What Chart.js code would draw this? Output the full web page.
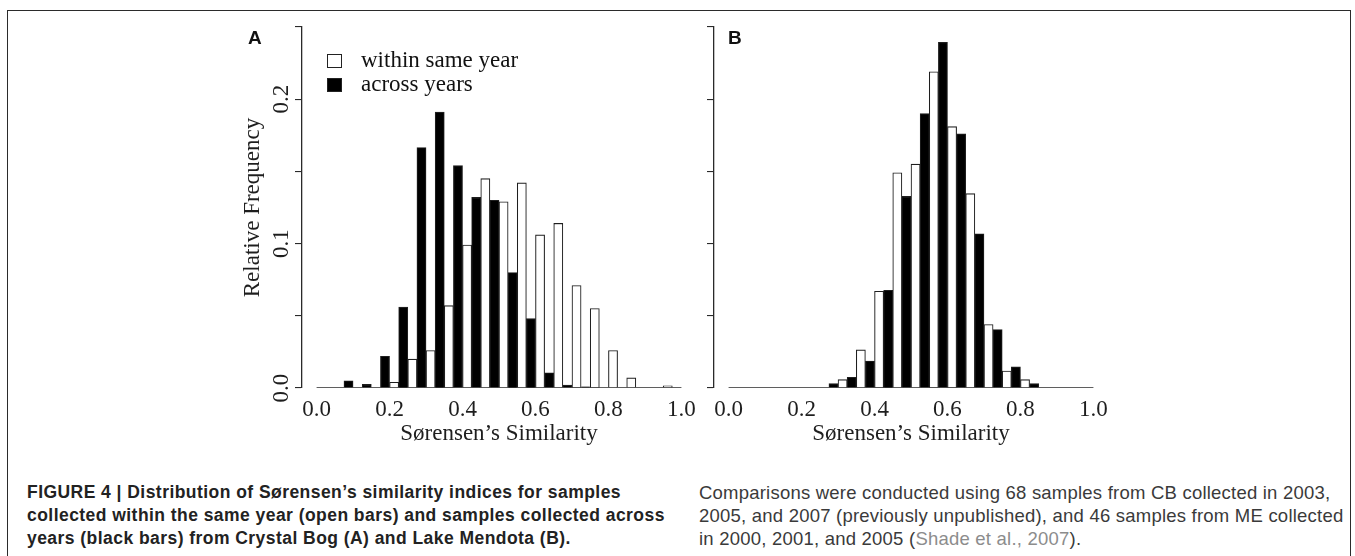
<!DOCTYPE html>
<html>
<head>
<meta charset="utf-8">
<script src="https://cdn.jsdelivr.net/npm/chart.js@4.4.1/dist/chart.umd.min.js"></script>
<style>
  html, body { margin: 0; padding: 0; background: #fff; width: 1355px; height: 556px; overflow: hidden; }
  #frame { position: absolute; left: 7px; top: 10px; width: 1344px; height: 600px; border: 1.5px solid #2b2b2b; box-sizing: border-box; }
  .cv { position: absolute; top: 0; }
  #cA { left: 0; width: 704px; height: 470px; }
  #cB { left: 706px; width: 410px; height: 470px; }
  .panel { position: absolute; font-family: "Liberation Sans", Arial, sans-serif; font-weight: bold; font-size: 19px; color: #111; }
  .leg { position: absolute; font-family: "Liberation Serif", "Times New Roman", serif; font-size: 23px; color: #111; line-height: 24px; white-space: nowrap; }
  .sw { position: absolute; width: 15px; height: 14px; box-sizing: border-box; border: 1.2px solid #222; }
  .cap { position: absolute; top: 481px; line-height: 23px; white-space: nowrap; font-family: "Liberation Sans", Arial, sans-serif; }
  #capL { left: 27px; font-weight: bold; font-size: 17.5px; letter-spacing: 0.45px; color: #222; }
  #capR { left: 699px; font-size: 18.5px; letter-spacing: 0.22px; color: #3a3a3a; }
  #capR .ref { color: #8c8c8c; }
</style>
</head>
<body>
<div id="frame"></div>
<div class="cv" id="cA"><canvas id="chartA"></canvas></div>
<div class="cv" id="cB"><canvas id="chartB"></canvas></div>
<div class="panel" style="left:248px; top:27px;">A</div>
<div class="panel" style="left:728px; top:27px;">B</div>
<div class="sw" style="left:327px; top:54px; background:#fff;"></div>
<div class="sw" style="left:327px; top:78px; background:#000;"></div>
<div class="leg" style="left:361px; top:48px;">within same year</div>
<div class="leg" style="left:361px; top:72px;">across years</div>
<div class="cap" id="capL">FIGURE 4 | Distribution of Sørensen’s similarity indices for samples<br>collected within the same year (open bars) and samples collected across<br>years (black bars) from Crystal Bog (A) and Lake Mendota (B).</div>
<div class="cap" id="capR">Comparisons were conducted using 68 samples from CB collected in 2003,<br>2005, and 2007 (previously unpublished), and 46 samples from ME collected<br>in 2000, 2001, and 2005 (<span class="ref">Shade et al., 2007</span>).</div>
<script>
// Bin midpoints of Sørensen's similarity (bin width 0.05)
const binMid = [0.025, 0.075, 0.125, 0.175, 0.225, 0.275, 0.325, 0.375, 0.425, 0.475,
                0.525, 0.575, 0.625, 0.675, 0.725, 0.775, 0.825, 0.875, 0.925, 0.975];

// Panel A: Crystal Bog
const withinA = [0, 0, 0, 0, 0.004, 0.020, 0.026, 0.057, 0.099, 0.145,
                 0.129, 0.142, 0.106, 0.114, 0.071, 0.055, 0.026, 0.007, 0, 0.0015];
const acrossA = [0, 0.005, 0.0025, 0.022, 0.056, 0.1665, 0.191, 0.154, 0.132, 0.130,
                 0.080, 0.048, 0.0105, 0.002, 0.0008, 0, 0, 0, 0, 0];

// Panel B: Lake Mendota
const withinB = [0, 0, 0, 0, 0, 0, 0.0058, 0.0264, 0.067, 0.149,
                 0.155, 0.219, 0.181, 0.1346, 0.044, 0.0118, 0.0058, 0, 0, 0];
const acrossB = [0, 0, 0, 0, 0, 0.003, 0.0074, 0.0187, 0.0677, 0.1327,
                 0.190, 0.2393, 0.176, 0.1068, 0.0405, 0.0146, 0.003, 0, 0, 0];

const seriesNames = ['within same year', 'across years'];
const baselineX = [0, 1];

const xTickValues = [0, 0.2, 0.4, 0.6, 0.8, 1.0];
const xTickLabels = ['0.0', '0.2', '0.4', '0.6', '0.8', '1.0'];
const yTickValues = [0, 0.05, 0.1, 0.15, 0.2, 0.25];
const yTickLabelsA = ['0.0', '', '0.1', '', '0.2', ''];
const yTickLabelsB = ['', '', '', '', '', ''];

const serif = "'Liberation Serif', 'Times New Roman', serif";
const ink = '#1e1e1e';
const FS = 23;

function makeChart(id, within, across, yLabels, showYTitle, padLeft, yWidth) {
  const toPts = arr => binMid.map((x, i) => ({x: x, y: arr[i]}));
  return new Chart(document.getElementById(id), {
    type: 'bar',
    data: {
      datasets: [
        { label: seriesNames[0], data: toPts(within), backgroundColor: '#ffffff', borderColor: ink, borderWidth: 1.1, borderSkipped: 'start', categoryPercentage: 1, barPercentage: 1 },
        { label: seriesNames[1], data: toPts(across), backgroundColor: '#000000', borderColor: ink, borderWidth: 1.1, borderSkipped: 'start', categoryPercentage: 1, barPercentage: 1 },
        { type: 'line', label: 'baseline', data: baselineX.map(x => ({x: x, y: 0})), borderColor: '#2a2a2a', borderWidth: 1.4, pointRadius: 0, order: -1 }
      ]
    },
    options: {
      responsive: true,
      maintainAspectRatio: false,
      animation: false,
      events: [],
      layout: { padding: { left: padLeft, top: 27, right: 0, bottom: 0 } },
      plugins: { legend: { display: false }, tooltip: { enabled: false } },
      scales: {
        x: {
          type: 'linear', min: -0.04, max: 1.04, offset: false,
          afterBuildTicks: ax => { ax.ticks = xTickValues.map(v => ({value: v})); },
          afterFit: ax => { ax.height = 82; },
          grid: { display: false, drawTicks: false },
          border: { display: false },
          ticks: { padding: 8.2, maxRotation: 0, autoSkip: false, color: ink,
                   font: { family: serif, size: FS, lineHeight: 1.2 },
                   callback: (v, i) => xTickLabels[i] },
          title: { display: true, text: 'Sørensen’s Similarity', color: ink,
                   font: { family: serif, size: FS, lineHeight: 1.2 }, padding: { top: 0, bottom: 22 } }
        },
        y: {
          type: 'linear', min: 0, max: 0.25,
          afterBuildTicks: ax => { ax.ticks = yTickValues.map(v => ({value: v})); },
          afterFit: ax => { ax.width = yWidth; },
          grid: { drawOnChartArea: false, drawTicks: true, tickLength: 7, color: '#2a2a2a', lineWidth: 1.1 },
          border: { display: true, color: '#2a2a2a', width: 1.3 },
          ticks: { padding: -1, minRotation: 90, maxRotation: 90, crossAlign: 'center', autoSkip: false, color: ink,
                   font: { family: serif, size: FS, lineHeight: 1.2 },
                   callback: (v, i) => yLabels[i] },
          title: { display: showYTitle, text: 'Relative Frequency', color: ink,
                   font: { family: serif, size: FS, lineHeight: 1.2 }, padding: { top: 19.2, bottom: 0 } }
        }
      }
    }
  });
}

makeChart('chartA', withinA, acrossA, yTickLabelsA, true, 220, 82);
makeChart('chartB', withinB, acrossB, yTickLabelsB, false, 0, 8);
</script>
</body>
</html>
